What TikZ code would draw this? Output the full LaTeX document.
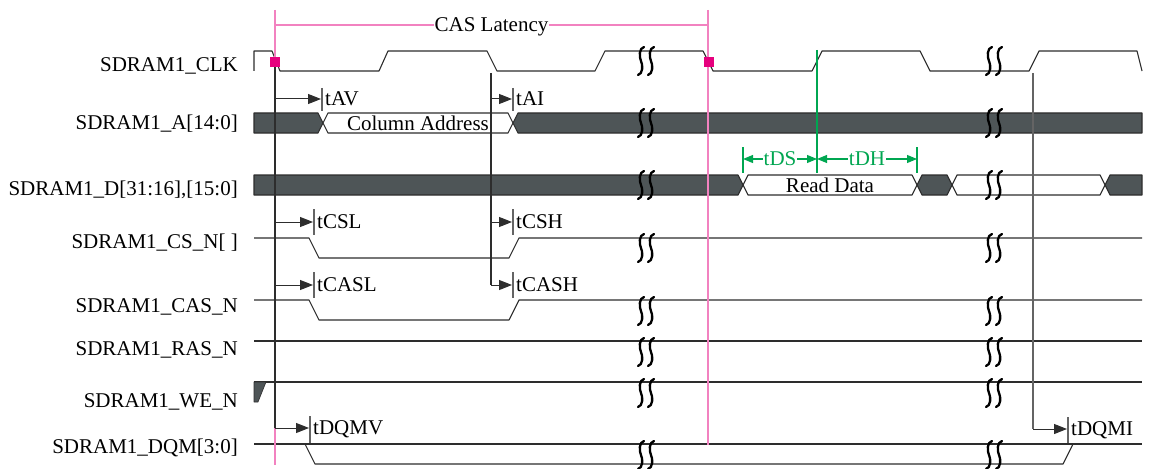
\documentclass[tikz,border=0pt]{standalone}
\usepackage{fontspec}
\setmainfont{Liberation Serif}
\usetikzlibrary{arrows.meta}
\definecolor{busgray}{RGB}{78,85,87}
\definecolor{latpink}{RGB}{242,130,192}
\definecolor{edgemag}{RGB}{230,0,126}
\definecolor{dsgreen}{RGB}{0,166,81}
\definecolor{wire}{RGB}{45,45,45}
\definecolor{refgray}{RGB}{100,100,100}
\begin{document}
\begin{tikzpicture}[x=1pt,y=-1pt]
	\tikzstyle{every node}+=[inner sep=0pt,font=\fontsize{21}{24}\selectfont]
	\tikzstyle{sig}=[wire,line width=1.1pt,line join=round]
	\tikzstyle{bus}=[wire,line width=1.1pt,line join=round,fill=busgray]
	\tikzstyle{busw}=[wire,line width=1.1pt,line join=round,fill=white]
	\tikzstyle{brk}=[black,line width=2.3pt,line cap=round]
	\tikzstyle{tarr}=[wire,line width=1pt,-{Triangle[length=13pt,width=10pt]}]
	\tikzstyle{tmark}=[refgray,line width=1.2pt]
	\tikzstyle{signame}=[anchor=base east,font=\fontsize{21}{24}\selectfont]
	\tikzstyle{tlab}=[anchor=base west,font=\fontsize{21}{24}\selectfont]
	\tikzstyle{garr}=[dsgreen,line width=1.1pt,{Triangle[length=10pt,width=8pt]}-{Triangle[length=10pt,width=8pt]}]
	\useasboundingbox (0,0) rectangle (1155,468);
	\node [signame] (n-clk) at (238,72) {SDRAM1\_CLK};
	\node [signame] (n-addr) at (238,129) {SDRAM1\_A[14:0]};
	\node [signame] (n-data) at (238,195) {SDRAM1\_D[31:16],[15:0]};
	\node [signame] (n-cs) at (238,248) {SDRAM1\_CS\_N[ ]};
	\node [signame] (n-cas) at (238,312) {SDRAM1\_CAS\_N};
	\node [signame] (n-ras) at (238,355) {SDRAM1\_RAS\_N};
	\node [signame] (n-we) at (238,407) {SDRAM1\_WE\_N};
	\node [signame] (n-dqm) at (238,453) {SDRAM1\_DQM[3:0]};
	\draw [sig] (254,71) -- (254,51) -- (272,51) -- (280,71) -- (379,71) -- (388,51) -- (487,51) -- (497,71) -- (595,71) -- (605,51) -- (703,51) -- (713,71) -- (812,71) -- (822,51) -- (920,51) -- (930,71) -- (1029,71) -- (1039,51) -- (1137,51) -- (1142,71);
	\draw [bus] (254,113) -- (318,113) -- (323,123) -- (318,133) -- (254,133) -- cycle;
	\draw [busw] (323,123) -- (328,113) -- (508,113) -- (513,123) -- (508,133) -- (328,133) -- cycle;
	\draw [bus] (513,123) -- (518,113) -- (1142,113) -- (1142,133) -- (518,133) -- cycle;
	\draw [bus] (254,175) -- (738,175) -- (743,185) -- (738,195) -- (254,195) -- cycle;
	\draw [busw] (743,185) -- (748,175) -- (912,175) -- (917,185) -- (912,195) -- (748,195) -- cycle;
	\draw [bus] (917,185) -- (922,175) -- (947,175) -- (952,185) -- (947,195) -- (922,195) -- cycle;
	\draw [busw] (952,185) -- (957,175) -- (1100,175) -- (1105,185) -- (1100,195) -- (957,195) -- cycle;
	\draw [bus] (1105,185) -- (1110,175) -- (1142,175) -- (1142,195) -- (1110,195) -- cycle;
	\draw [sig] (254,238) -- (309,238) -- (319,258) -- (509,258) -- (519,238) -- (1142,238);
	\draw [sig] (254,300) -- (309,300) -- (319,320) -- (509,320) -- (519,300) -- (1142,300);
	\draw [sig] (254,341) -- (1142,341);
	\draw [sig] (254,382) -- (1142,382);
	\draw [bus,line width=0.6pt] (254,382) -- (266,382) -- (258,402) -- (254,402) -- cycle;
	\draw [sig] (254,444) -- (1142,444);
	\draw [sig] (305,444) -- (315,464) -- (1063,464) -- (1073,444);
	\foreach \y in {61,123,185,248,311,352,393,455}
		\foreach \x in {641,651,989,999}
			\draw [brk] (\x+3,\y-14) .. controls (\x-2,\y-13) and (\x-2,\y-4) .. (\x,\y) .. controls (\x+2,\y+4) and (\x+2,\y+13) .. (\x-3,\y+14);
	\node (coladdr) at (418,123) [text depth=0pt] {Column Address};
	\node (rddata) at (830,185) [text depth=0pt] {Read Data};
	\draw [latpink,line width=1.3pt] (275,10) -- (275,465);
	\draw [latpink,line width=1.3pt] (708,10) -- (708,445);
	\draw [latpink,line width=1.3pt] (275,25) -- (708,25) node [midway,fill=white,inner xsep=1pt,text depth=0pt,text=black] (lat) {CAS Latency};
	\draw [wire,line width=1.1pt] (275,67) -- (275,428);
	\draw [wire,line width=1.1pt] (491,73) -- (491,285);
	\draw [refgray,line width=1.1pt] (1033,73) -- (1033,429);
	\draw [dsgreen,line width=1.1pt] (817,50) -- (817,173);
	\fill [edgemag] (270,57) rectangle (280,67);
	\fill [edgemag] (704,57) rectangle (714,67);
	\draw [tarr] (275,99) -- (321,99);
	\draw [tmark] (322,88) -- (322,111);
	\node [tlab] (tav) at (325,105.5) {tAV};
	\draw [tarr] (491,99) -- (512,99);
	\draw [tmark] (513,88) -- (513,111);
	\node [tlab] (tai) at (516,105.5) {tAI};
	\draw [tarr] (275,222) -- (313,222);
	\draw [tmark] (314,209) -- (314,235);
	\node [tlab] (tcsl) at (317,228.5) {tCSL};
	\draw [tarr] (491,222) -- (512,222);
	\draw [tmark] (513,209) -- (513,235);
	\node [tlab] (tcsh) at (516,228.5) {tCSH};
	\draw [tarr] (275,285) -- (313,285);
	\draw [tmark] (314,272) -- (314,298);
	\node [tlab] (tcasl) at (317,291.5) {tCASL};
	\draw [tarr] (491,285) -- (512,285);
	\draw [tmark] (513,272) -- (513,298);
	\node [tlab] (tcash) at (516,291.5) {tCASH};
	\draw [tarr] (275,428) -- (309,428);
	\draw [tmark] (310,416) -- (310,443);
	\node [tlab] (tdqmv) at (313,434.5) {tDQMV};
	\draw [tarr] (1033,429) -- (1067,429);
	\draw [tmark] (1068,417) -- (1068,443);
	\node [tlab] (tdqmi) at (1071,435.5) {tDQMI};
	\draw [dsgreen,line width=1.1pt] (743,147) -- (743,173);
	\draw [dsgreen,line width=1.1pt] (917,147) -- (917,173);
	\draw [garr] (743,159) -- (817,159) node [midway,fill=white,inner xsep=1pt,text depth=0pt,text=dsgreen] (tds) {tDS};
	\draw [garr] (817,159) -- (917,159) node [midway,fill=white,inner xsep=1pt,text depth=0pt,text=dsgreen] (tdh) {tDH};
\end{tikzpicture}
\end{document}
